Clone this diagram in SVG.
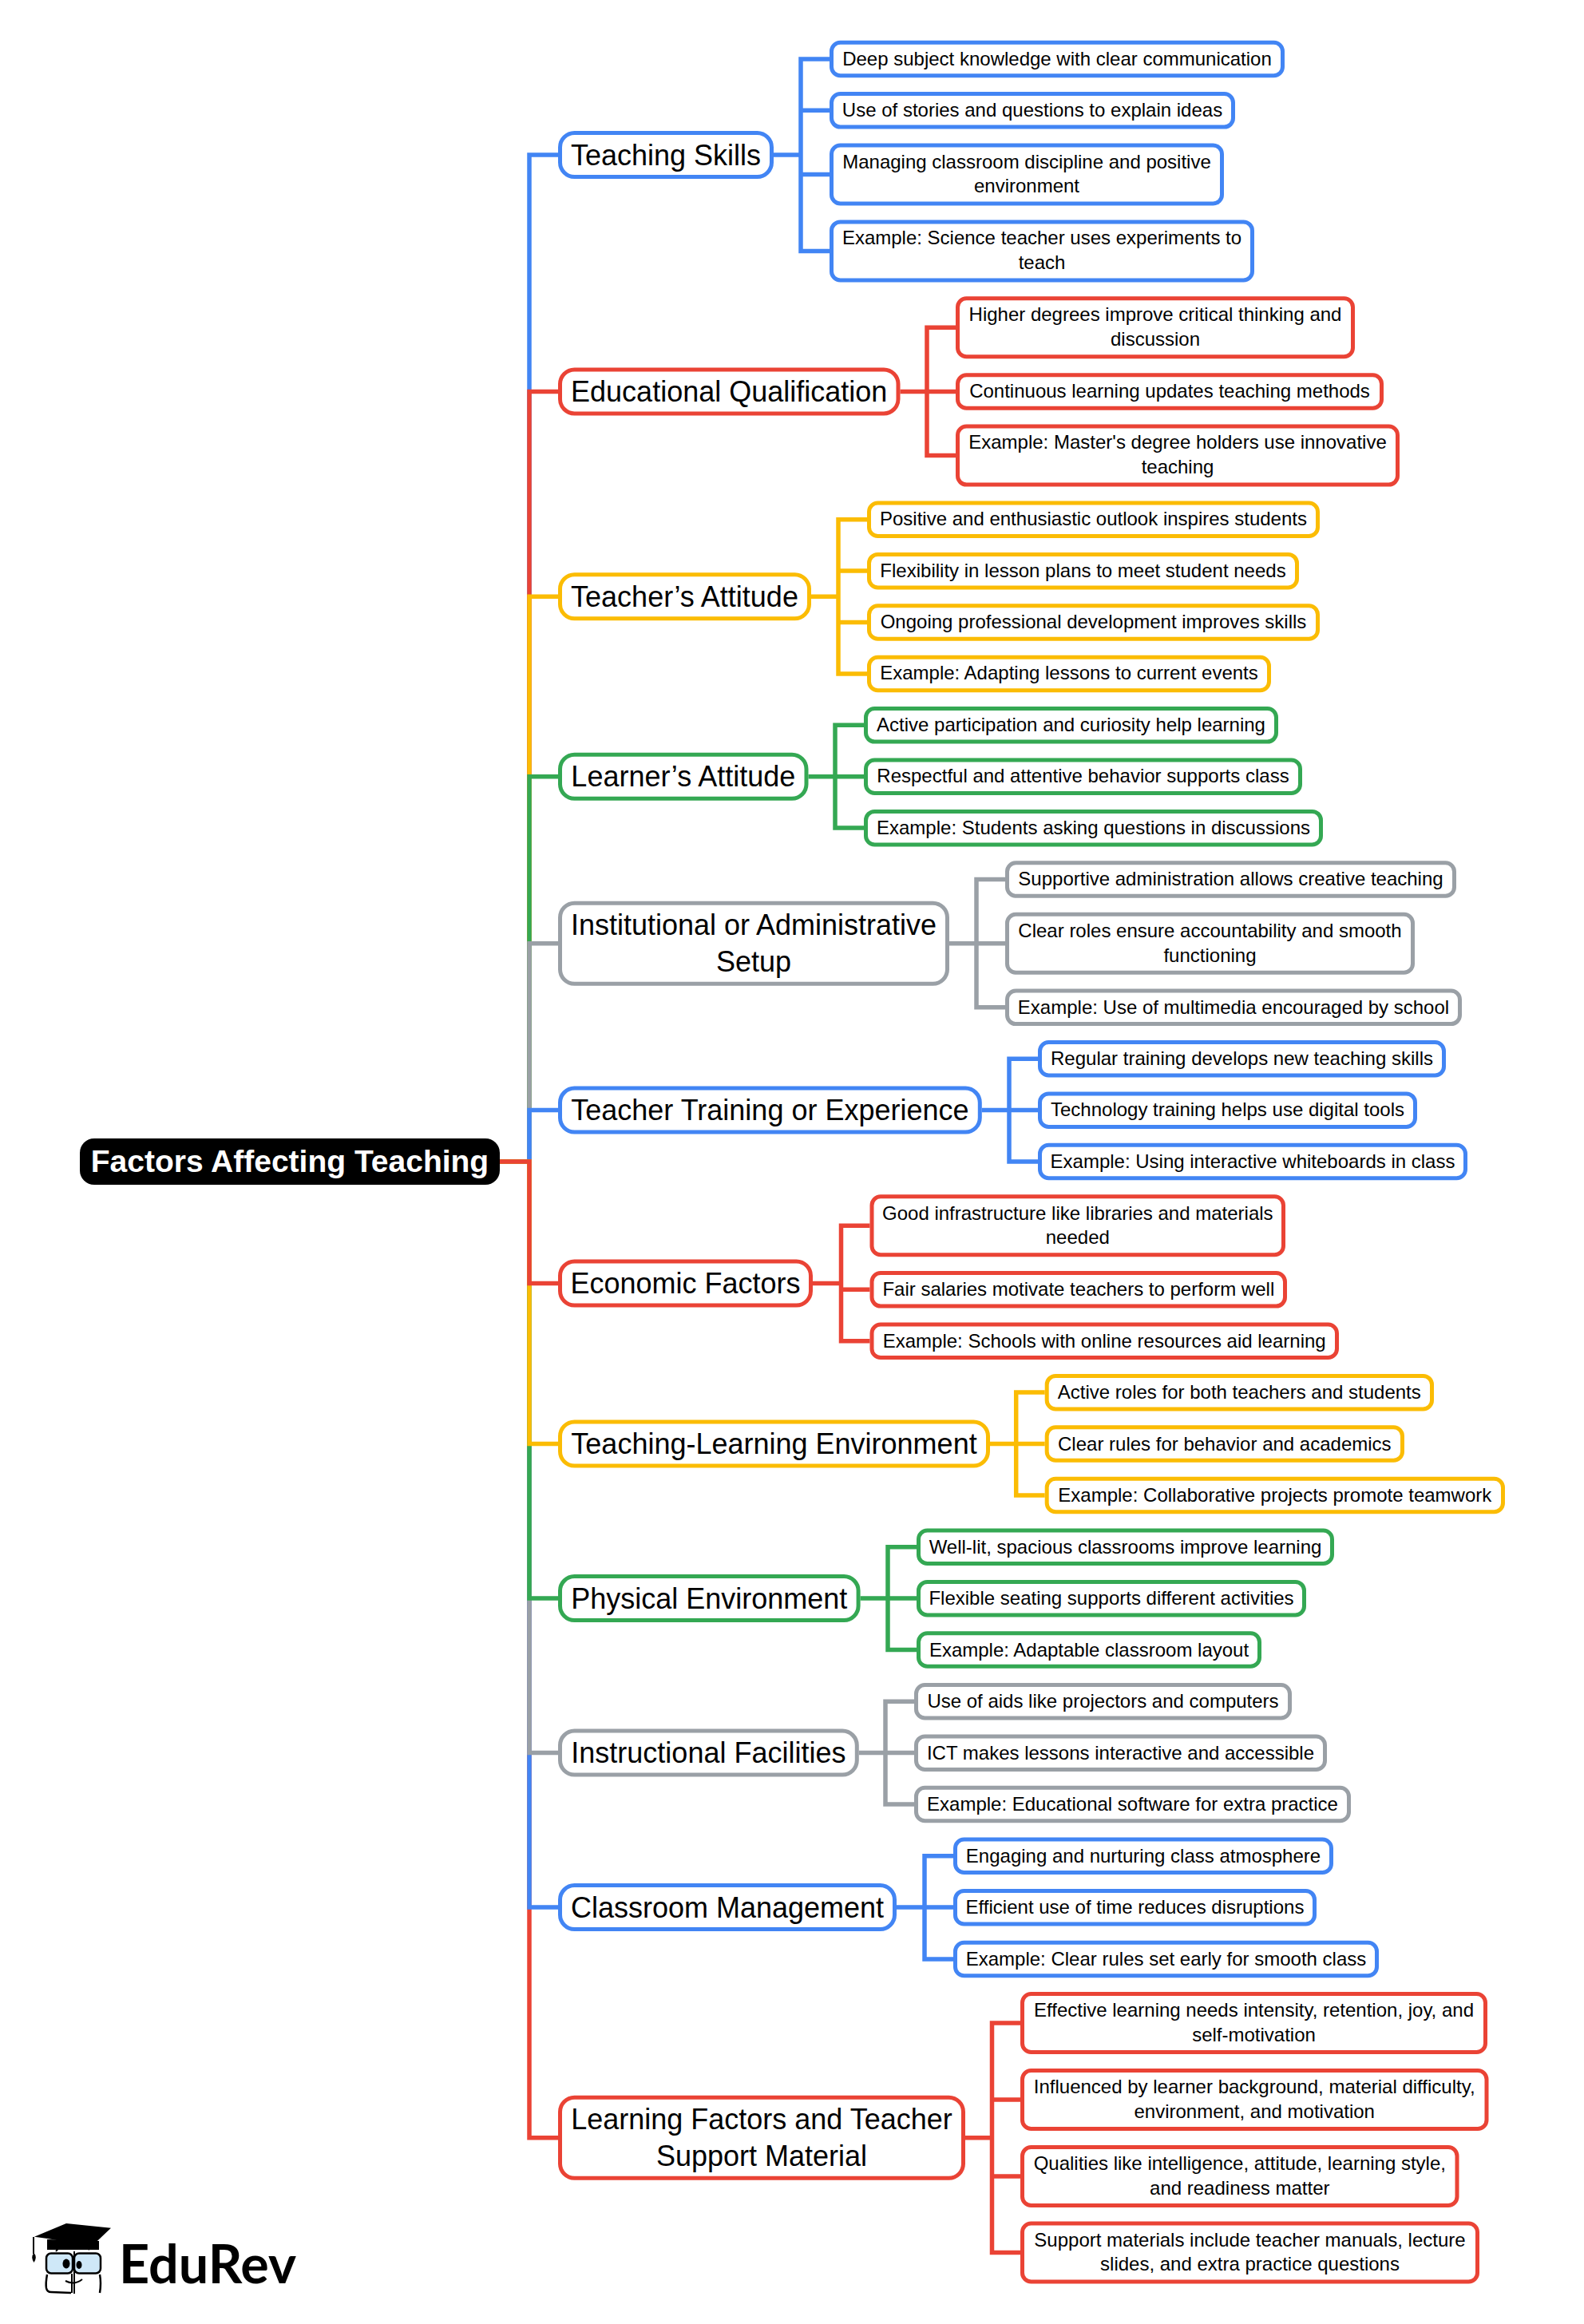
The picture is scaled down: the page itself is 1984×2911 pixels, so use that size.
<svg xmlns="http://www.w3.org/2000/svg" width="1984" height="2911" viewBox="0 0 1984 2911">
<style>
text{font-family:"Liberation Sans",Arial,sans-serif;text-anchor:middle;fill:#000}
.l{font-size:24px}
.b{font-size:36px}
.r{font-size:39px;font-weight:700;fill:#fff}
rect{fill:#fff;stroke-width:5}
.lf{rx:11px}
.br{rx:18px}
#connectors path{fill:none;stroke-width:5.5;stroke-linejoin:miter}
.cb{stroke:#4285f4}.cr{stroke:#ea4335}.cy{stroke:#fbbc04}.cg{stroke:#34a853}.cn{stroke:#9aa0a6}
</style>
<rect width="1984" height="2911" style="fill:#fff;stroke:none"/>
<g id="connectors">
<path class="cb" d="M626 1455H663V194H699"/>
<path class="cr" d="M626 1455H663V490.4H699"/>
<path class="cy" d="M626 1455H663V747.3H699"/>
<path class="cg" d="M626 1455H663V972.7H699"/>
<path class="cn" d="M626 1455H663V1181.7H699"/>
<path class="cb" d="M626 1455H663V1390.6H699"/>
<path class="cr" d="M626 1455H663V2677.7H699"/>
<path class="cb" d="M626 1455H663V2389.1H699"/>
<path class="cn" d="M626 1455H663V2195.6H699"/>
<path class="cg" d="M626 1455H663V2002.1H699"/>
<path class="cy" d="M626 1455H663V1808.5H699"/>
<path class="cr" d="M626 1455H663V1607.5H699"/>
<path class="cb" d="M969 194H1003V73.9H1039M969 194H1003V138.3H1039M969 194H1003V218.5H1039M969 194H1003V314.4H1039"/>
<path class="cr" d="M1127.500 490.400H1161V410.300H1197M1127.500 490.400H1161V490.400H1197M1127.500 490.400H1161V570.600H1197"/>
<path class="cy" d="M1016 747.3H1050V650.7H1086M1016 747.3H1050V715.1H1086M1016 747.3H1050V779.5H1086M1016 747.3H1050V843.9H1086"/>
<path class="cg" d="M1012.500 972.700H1046V908.300H1082M1012.500 972.700H1046V972.700H1082M1012.500 972.700H1046V1037.100H1082"/>
<path class="cn" d="M1189 1181.7H1223V1101.5H1259M1189 1181.7H1223V1181.7H1259M1189 1181.7H1223V1261.8H1259"/>
<path class="cb" d="M1229.800 1390.600H1264V1326.200H1300M1229.800 1390.600H1264V1390.600H1300M1229.800 1390.600H1264V1455H1300"/>
<path class="cr" d="M1018 1607.5H1053.500V1535.200H1089.500M1018 1607.5H1053.500V1615.300H1089.500M1018 1607.5H1053.500V1679.700H1089.500"/>
<path class="cy" d="M1240 1808.5H1272.700V1744.100H1308.700M1240 1808.500H1272.700V1808.500H1308.700M1240 1808.500H1272.700V1872.900H1308.700"/>
<path class="cg" d="M1077.600 2002.100H1112V1937.700H1148M1077.600 2002.100H1112V2002.100H1148M1077.600 2002.100H1112V2066.500H1148"/>
<path class="cn" d="M1075.800 2195.600H1109V2131.200H1145M1075.800 2195.600H1109V2195.600H1145M1075.800 2195.600H1109V2260H1145"/>
<path class="cb" d="M1123 2389.1H1158V2324.700H1194M1123 2389.100H1158V2389.100H1194M1123 2389.100H1158V2453.900H1194"/>
<path class="cr" d="M1209 2677.7H1242.500V2534H1278M1209 2677.700H1242.500V2630H1278M1209 2677.700H1242.500V2726H1278M1209 2677.700H1242.500V2821.500H1278"/>
</g>
<g id="root"><rect x="100" y="1426" width="526" height="58" rx="18" style="fill:#000;stroke:none"/><text class="r" x="363" y="1468">Factors Affecting Teaching</text></g>

<g id="b1"><rect class="br cb" x="701.5" y="166.5" width="265" height="55"/><text class="b" x="834" y="206.5">Teaching Skills</text></g>
<g id="b1-1"><rect class="lf cb" x="1041.5" y="53.2" width="565" height="41.5"/><text class="l" x="1324" y="81.7">Deep subject knowledge with clear communication</text></g>
<g id="b1-2"><rect class="lf cb" x="1041.5" y="117.6" width="503" height="41.5"/><text class="l" x="1293" y="145.6">Use of stories and questions to explain ideas</text></g>
<g id="b1-3"><rect class="lf cb" x="1041.5" y="182" width="489" height="73"/><text class="l" x="1286" y="210.5">Managing classroom discipline and positive</text><text class="l" x="1286" y="241.1">environment</text></g>
<g id="b1-4"><rect class="lf cb" x="1041.5" y="277.9" width="527" height="73"/><text class="l" x="1305" y="306.3">Example: Science teacher uses experiments to</text><text class="l" x="1305" y="336.9">teach</text></g>

<g id="b2"><rect class="br cr" x="701.5" y="462.9" width="423.5" height="55"/><text class="b" x="913.2" y="503.2">Educational Qualification</text></g>
<g id="b2-1"><rect class="lf cr" x="1199.5" y="373.8" width="495" height="73"/><text class="l" x="1447" y="402">Higher degrees improve critical thinking and</text><text class="l" x="1447" y="432.6">discussion</text></g>
<g id="b2-2"><rect class="lf cr" x="1199.5" y="469.7" width="531" height="41.5"/><text class="l" x="1465" y="497.7">Continuous learning updates teaching methods</text></g>
<g id="b2-3"><rect class="lf cr" x="1199.5" y="534.1" width="551" height="73"/><text class="l" x="1475" y="562.3">Example: Master's degree holders use innovative</text><text class="l" x="1475" y="592.9">teaching</text></g>

<g id="b3"><rect class="br cy" x="701.5" y="719.8" width="312" height="55"/><text class="b" x="857.5" y="760">Teacher’s Attitude</text></g>
<g id="b3-1"><rect class="lf cy" x="1088.5" y="630" width="562" height="41.5"/><text class="l" x="1369.5" y="658">Positive and enthusiastic outlook inspires students</text></g>
<g id="b3-2"><rect class="lf cy" x="1088.5" y="694.4" width="536" height="41.5"/><text class="l" x="1356.5" y="722.8">Flexibility in lesson plans to meet student needs</text></g>
<g id="b3-3"><rect class="lf cy" x="1088.5" y="758.8" width="562" height="41.5"/><text class="l" x="1369.5" y="787.2">Ongoing professional development improves skills</text></g>
<g id="b3-4"><rect class="lf cy" x="1088.5" y="823.2" width="501" height="41.5"/><text class="l" x="1339" y="851.2">Example: Adapting lessons to current events</text></g>

<g id="b4"><rect class="br cg" x="701.5" y="945.2" width="308.5" height="55"/><text class="b" x="855.8" y="985">Learner’s Attitude</text></g>
<g id="b4-1"><rect class="lf cg" x="1084.5" y="887.6" width="514" height="41.5"/><text class="l" x="1341.5" y="915.6">Active participation and curiosity help learning</text></g>
<g id="b4-2"><rect class="lf cg" x="1084.5" y="952" width="544" height="41.5"/><text class="l" x="1356.5" y="980">Respectful and attentive behavior supports class</text></g>
<g id="b4-3"><rect class="lf cg" x="1084.5" y="1016.4" width="570" height="41.5"/><text class="l" x="1369.5" y="1044.8">Example: Students asking questions in discussions</text></g>

<g id="b5"><rect class="br cn" x="701.5" y="1131.2" width="485" height="101"/><text class="b" x="944" y="1171.2">Institutional or Administrative</text><text class="b" x="944" y="1217.2">Setup</text></g>
<g id="b5-1"><rect class="lf cn" x="1261.5" y="1080.8" width="560" height="41.5"/><text class="l" x="1541.5" y="1109.2">Supportive administration allows creative teaching</text></g>
<g id="b5-2"><rect class="lf cn" x="1261.5" y="1145.2" width="508" height="73"/><text class="l" x="1515.5" y="1173.9">Clear roles ensure accountability and smooth</text><text class="l" x="1515.5" y="1204.5">functioning</text></g>
<g id="b5-3"><rect class="lf cn" x="1261.5" y="1241.1" width="567" height="41.5"/><text class="l" x="1545" y="1269.6">Example: Use of multimedia encouraged by school</text></g>

<g id="b6"><rect class="br cb" x="701.5" y="1363.1" width="525.8" height="55"/><text class="b" x="964.4" y="1403.2">Teacher Training or Experience</text></g>
<g id="b6-1"><rect class="lf cb" x="1302.5" y="1305.5" width="506" height="41.5"/><text class="l" x="1555.5" y="1333.6">Regular training develops new teaching skills</text></g>
<g id="b6-2"><rect class="lf cb" x="1302.5" y="1369.9" width="470" height="41.5"/><text class="l" x="1537.5" y="1398.4">Technology training helps use digital tools</text></g>
<g id="b6-3"><rect class="lf cb" x="1302.5" y="1434.3" width="533" height="41.5"/><text class="l" x="1569" y="1462.8">Example: Using interactive whiteboards in class</text></g>

<g id="b7"><rect class="br cr" x="701.5" y="1580" width="314" height="55"/><text class="b" x="858.5" y="1620">Economic Factors</text></g>
<g id="b7-1"><rect class="lf cr" x="1092" y="1498.7" width="515.5" height="73"/><text class="l" x="1349.8" y="1527.5">Good infrastructure like libraries and materials</text><text class="l" x="1349.8" y="1558.1">needed</text></g>
<g id="b7-2"><rect class="lf cr" x="1092" y="1594.6" width="517.5" height="41.5"/><text class="l" x="1350.8" y="1622.8">Fair salaries motivate teachers to perform well</text></g>
<g id="b7-3"><rect class="lf cr" x="1092" y="1659" width="582.5" height="41.5"/><text class="l" x="1383.2" y="1687.5">Example: Schools with online resources aid learning</text></g>

<g id="b8"><rect class="br cy" x="701.5" y="1781" width="536" height="55"/><text class="b" x="969.5" y="1821.2">Teaching-Learning Environment</text></g>
<g id="b8-1"><rect class="lf cy" x="1311.2" y="1723.4" width="482.3" height="41.5"/><text class="l" x="1552.3" y="1752">Active roles for both teachers and students</text></g>
<g id="b8-2"><rect class="lf cy" x="1311.2" y="1787.8" width="445.3" height="41.5"/><text class="l" x="1533.8" y="1816.6">Clear rules for behavior and academics</text></g>
<g id="b8-3"><rect class="lf cy" x="1311.2" y="1852.2" width="571.3" height="41.5"/><text class="l" x="1596.8" y="1880.8">Example: Collaborative projects promote teamwork</text></g>

<g id="b9"><rect class="br cg" x="701.5" y="1974.6" width="373.6" height="55"/><text class="b" x="888.3" y="2014.6">Physical Environment</text></g>
<g id="b9-1"><rect class="lf cg" x="1150.5" y="1917" width="518" height="41.5"/><text class="l" x="1409.5" y="1945.5">Well-lit, spacious classrooms improve learning</text></g>
<g id="b9-2"><rect class="lf cg" x="1150.5" y="1981.4" width="483" height="41.5"/><text class="l" x="1392" y="2010">Flexible seating supports different activities</text></g>
<g id="b9-3"><rect class="lf cg" x="1150.5" y="2045.8" width="427" height="41.5"/><text class="l" x="1364" y="2074.7">Example: Adaptable classroom layout</text></g>

<g id="b10"><rect class="br cn" x="701.5" y="2168.1" width="371.8" height="55"/><text class="b" x="887.4" y="2208.2">Instructional Facilities</text></g>
<g id="b10-1"><rect class="lf cn" x="1147.5" y="2110.5" width="468" height="41.5"/><text class="l" x="1381.5" y="2138.6">Use of aids like projectors and computers</text></g>
<g id="b10-2"><rect class="lf cn" x="1147.5" y="2174.9" width="512" height="41.5"/><text class="l" x="1403.5" y="2203.6">ICT makes lessons interactive and accessible</text></g>
<g id="b10-3"><rect class="lf cn" x="1147.5" y="2239.3" width="542" height="41.5"/><text class="l" x="1418.5" y="2267.8">Example: Educational software for extra practice</text></g>

<g id="b11"><rect class="br cb" x="701.5" y="2361.6" width="419" height="55"/><text class="b" x="911" y="2401.6">Classroom Management</text></g>
<g id="b11-1"><rect class="lf cb" x="1196.5" y="2304" width="471" height="41.5"/><text class="l" x="1432" y="2332.6">Engaging and nurturing class atmosphere</text></g>
<g id="b11-2"><rect class="lf cb" x="1196.5" y="2368.4" width="450" height="41.5"/><text class="l" x="1421.5" y="2396.9">Efficient use of time reduces disruptions</text></g>
<g id="b11-3"><rect class="lf cb" x="1196.5" y="2433.2" width="528" height="41.5"/><text class="l" x="1460.5" y="2461.8">Example: Clear rules set early for smooth class</text></g>

<g id="b12"><rect class="br cr" x="701.5" y="2627.2" width="505" height="101"/><text class="b" x="954" y="2667">Learning Factors and Teacher</text><text class="b" x="954" y="2713">Support Material</text></g>
<g id="b12-1"><rect class="lf cr" x="1280.5" y="2497.5" width="580" height="73"/><text class="l" x="1570.5" y="2526.2">Effective learning needs intensity, retention, joy, and</text><text class="l" x="1570.5" y="2556.8">self-motivation</text></g>
<g id="b12-2"><rect class="lf cr" x="1280.5" y="2593.5" width="581.5" height="73"/><text class="l" x="1571.2" y="2622.3">Influenced by learner background, material difficulty,</text><text class="l" x="1571.2" y="2652.9">environment, and motivation</text></g>
<g id="b12-3"><rect class="lf cr" x="1280.5" y="2689.5" width="544.5" height="73"/><text class="l" x="1552.8" y="2718.2">Qualities like intelligence, attitude, learning style,</text><text class="l" x="1552.8" y="2748.8">and readiness matter</text></g>
<g id="b12-4"><rect class="lf cr" x="1280.5" y="2785" width="570" height="73"/><text class="l" x="1565.5" y="2813.8">Support materials include teacher manuals, lecture</text><text class="l" x="1565.5" y="2844.4">slides, and extra practice questions</text></g>

<g id="logo">
<path d="M59 2805L124 2807V2818H59Z" fill="#000"/>
<path d="M70 2820Q78 2809 90 2817M97 2816Q104 2811 112 2818" fill="none" stroke="#000" stroke-width="2"/>
<path d="M43 2801.7L83 2785L139 2790.7L112.7 2815.7Q80 2806 43 2801.7Z" fill="#000"/>
<path d="M42 2802V2823" stroke="#000" stroke-width="2" fill="none"/>
<path d="M42.500 2822Q47 2827 42.500 2834Q38 2827 42.500 2822Z" fill="#000"/>
<rect x="58" y="2822.500" width="33" height="25" rx="6" style="fill:#cfe8f8;stroke:#000;stroke-width:2.5"/>
<rect x="93" y="2822.500" width="33" height="25" rx="6" style="fill:#cfe8f8;stroke:#000;stroke-width:2.5"/>
<ellipse cx="83" cy="2835.500" rx="4.500" ry="6" fill="#000"/>
<ellipse cx="99" cy="2837" rx="3.500" ry="5" fill="#000"/>
<path d="M90 2848V2872M93 2820V2873" stroke="#000" stroke-width="2" fill="none"/>
<path d="M59 2849Q57 2860 58 2866Q59 2871 64 2871L89 2872M125 2849Q127 2860 125 2872" stroke="#000" stroke-width="2.500" fill="none"/>
<path d="M82 2857Q93 2863 103 2855" stroke="#000" stroke-width="2" fill="none"/>
<text x="149" y="2860" style="font-family:Lato,'Liberation Sans',sans-serif;font-weight:700;font-size:66.500px;text-anchor:start">EduRev</text>
</g>
</svg>
